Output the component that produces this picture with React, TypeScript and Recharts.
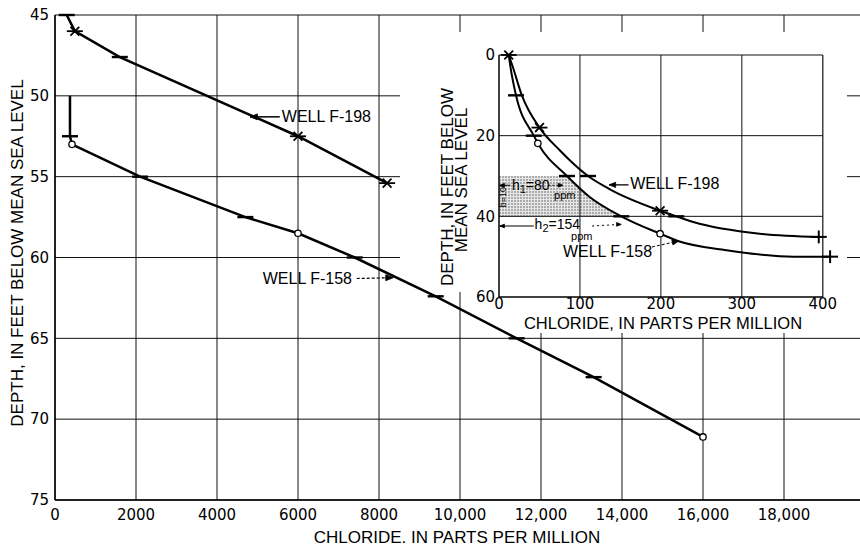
import React from 'react';
import {
  LineChart,
  ComposedChart,
  Line,
  Area,
  XAxis,
  YAxis,
  CartesianGrid,
  ReferenceLine,
  ReferenceDot,
  Label,
} from 'recharts';

const LABEL_FONT = '"Liberation Sans", Arial, sans-serif';
const TICK_FONT = '"DejaVu Sans", "Liberation Sans", sans-serif';

// ---------------- main chart ----------------
const mainChlorideTicks = [0, 2000, 4000, 6000, 8000, 10000, 12000, 14000, 16000, 18000];
const mainDepthTicks = [45, 50, 55, 60, 65, 70, 75];

const f198Chloride = [290, 490, 1600, 6000, 8200];
const f198Depth = [45.0, 46.0, 47.6, 52.5, 55.4];
const f198Marks = ['dash', 'star', 'dash', 'star', 'star'];

const f158Chloride = [370, 370, 420, 2100, 4700, 6000, 7400, 9400, 11400, 13300, 16000];
const f158Depth = [50.0, 52.5, 53.0, 55.0, 57.5, 58.5, 60.0, 62.4, 65.0, 67.4, 71.1];
const f158Marks = ['none', 'dash', 'circle', 'dash', 'dash', 'circle', 'dash', 'dash', 'dash', 'dash', 'circle'];

// ---------------- inset chart ----------------
const insetChlorideTicks = [0, 100, 200, 300, 400];
const insetDepthTicks = [0, 20, 40, 60];

const insetF198Chloride = [12, 17, 28, 50, 75, 110, 137, 199, 219, 240, 322, 395];
const insetF198Depth = [0, 2.9, 9.9, 18, 23.6, 30, 33.3, 38.6, 40, 41.4, 44.3, 45.1];
const insetF198Marks = ['star', 'none', 'none', 'star', 'none', 'dash', 'none', 'star', 'dash', 'none', 'none', 'plus'];

const insetF158Chloride = [12, 15, 21, 43, 48, 84, 112, 151, 199, 221, 281, 364, 409];
const insetF158Depth = [0, 4, 10, 20, 21.9, 30, 35.2, 40, 44.3, 46.1, 48.4, 50, 50];
const insetF158Marks = ['none', 'none', 'dash', 'dash', 'circle', 'dash', 'none', 'dash', 'circle', 'none', 'none', 'none', 'plus'];

// shaded zone (depth 30-40 ft) bounded on the right by the F-158 curve
const shadeChloride = [0, 84, 98, 112, 131, 151];
const shadeTop = [30, 30, 32.6, 35.2, 37.8, 40];
const shadeBottom = [40, 40, 40, 40, 40, 40];

const zip = (xs: number[], ys: number[], ms: string[]) =>
  xs.map((x, i) => ({ x, y: ys[i], m: ms[i] }));

const mainF198 = zip(f198Chloride, f198Depth, f198Marks);
const mainF158 = zip(f158Chloride, f158Depth, f158Marks);
const insetF198 = zip(insetF198Chloride, insetF198Depth, insetF198Marks);
const insetF158 = zip(insetF158Chloride, insetF158Depth, insetF158Marks);
const shadeData = shadeChloride.map((x, i) => ({ x, range: [shadeTop[i], shadeBottom[i]] }));

const fmtChloride = (v: number) =>
  v >= 10000 ? `${Math.floor(v / 1000)},${String(v % 1000).padStart(3, '0')}` : String(v);

const markDot = (half: number) => (props: any) => {
  const { cx, cy, payload, index } = props;
  const key = `m${index}`;
  if (cx == null || cy == null || !payload) return <g key={key} />;
  const s = { stroke: '#000', strokeWidth: 1.8, fill: 'none' };
  switch (payload.m) {
    case 'dash':
      return <line key={key} x1={cx - half} x2={cx + half} y1={cy} y2={cy} stroke="#000" strokeWidth={2.4} />;
    case 'star': {
      const d = half * 0.55;
      return (
        <g key={key} {...s}>
          <line x1={cx - half} x2={cx + half} y1={cy} y2={cy} />
          <line x1={cx - d} y1={cy - d} x2={cx + d} y2={cy + d} />
          <line x1={cx - d} y1={cy + d} x2={cx + d} y2={cy - d} />
        </g>
      );
    }
    case 'plus':
      return (
        <g key={key} {...s} strokeWidth={2}>
          <line x1={cx - half} x2={cx + half} y1={cy} y2={cy} />
          <line x1={cx} x2={cx} y1={cy - half * 0.8} y2={cy + half * 0.8} />
        </g>
      );
    case 'circle':
      return <circle key={key} cx={cx} cy={cy} r={3.2} fill="#fff" stroke="#000" strokeWidth={1.3} />;
    default:
      return <g key={key} />;
  }
};

const textAt = (str: string, size: number, anchor: string = 'start') => (p: any) => (
  <text
    x={p.cx}
    y={p.cy}
    textAnchor={anchor}
    dominantBaseline="central"
    fontFamily={LABEL_FONT}
    fontSize={size}
    fill="#000"
  >
    {str}
  </text>
);

const hText = (main: string, sub: string, rest: string, size: number) => (p: any) => (
  <text x={p.cx} y={p.cy} dominantBaseline="central" fontFamily={LABEL_FONT} fontSize={size} fill="#000">
    {main}
    <tspan dy={4} fontSize={size - 3}>{sub}</tspan>
    <tspan dy={-4}>{rest}</tspan>
  </text>
);

const arrowHead = (angle: number, len = 8) => (p: any) => {
  const a = (angle * Math.PI) / 180;
  const b1 = a + Math.PI - 0.38;
  const b2 = a + Math.PI + 0.38;
  const pts = `${p.cx + len * Math.cos(b1)},${p.cy + len * Math.sin(b1)} ${p.cx},${p.cy} ${p.cx + len * Math.cos(b2)},${p.cy + len * Math.sin(b2)}`;
  return <polygon points={pts} fill="#000" stroke="#000" strokeWidth={0.8} />;
};

const tickStyle = { fill: '#000', fontSize: 15, fontFamily: TICK_FONT };

export default function App() {
  return (
    <div style={{ position: 'absolute', left: 0, top: 0, width: 860, height: 546, overflow: 'hidden', background: '#fff' }}>
      {/* ---------------- main chart ---------------- */}
      <div style={{ position: 'absolute', left: 0, top: 0 }}>
        <LineChart width={900} height={546} margin={{ top: 15, right: 35, bottom: 0, left: 10 }}>
          <CartesianGrid stroke="#111" strokeWidth={1} />
          <XAxis
            dataKey="x"
            type="number"
            domain={[0, 20000]}
            ticks={mainChlorideTicks}
            interval={0}
            tickFormatter={fmtChloride}
            tick={tickStyle}
            tickLine={false}
            tickSize={0}
            tickMargin={9}
            height={46}
            axisLine={{ stroke: '#000', strokeWidth: 1.5 }}
          >
            <Label
              content={() => (
                <text x={457} y={537} textAnchor="middle" dominantBaseline="central" fontFamily={LABEL_FONT} fontSize={17} fill="#000">
                  CHLORIDE. IN PARTS PER MILLION
                </text>
              )}
            />
          </XAxis>
          <YAxis
            type="number"
            domain={[45, 75]}
            reversed
            ticks={mainDepthTicks}
            interval={0}
            tick={tickStyle}
            tickLine={false}
            tickSize={0}
            tickMargin={6}
            width={45}
            axisLine={{ stroke: '#000', strokeWidth: 1.5 }}
          >
            <Label
              content={() => (
                <text
                  transform="translate(17,253) rotate(-90)"
                  textAnchor="middle"
                  dominantBaseline="central"
                  fontFamily={LABEL_FONT}
                  fontSize={17}
                  fill="#000"
                >
                  DEPTH, IN FEET BELOW MEAN SEA LEVEL
                </text>
              )}
            />
          </YAxis>
          <Line
            data={mainF198}
            dataKey="y"
            type="linear"
            stroke="#000"
            strokeWidth={2.5}
            dot={markDot(8)}
            isAnimationActive={false}
          />
          <Line
            data={mainF158}
            dataKey="y"
            type="linear"
            stroke="#000"
            strokeWidth={2.5}
            dot={markDot(8)}
            isAnimationActive={false}
          />
          {/* WELL F-198 label and arrow */}
          <ReferenceLine segment={[{ x: 4815, y: 51.3 }, { x: 5550, y: 51.3 }]} stroke="#000" strokeWidth={1.5} />
          <ReferenceDot x={4815} y={51.3} shape={arrowHead(180)} />
          <ReferenceDot x={5600} y={51.3} shape={textAt('WELL F-198', 16)} />
          {/* WELL F-158 label and arrow */}
          <ReferenceDot x={5130} y={61.3} shape={textAt('WELL F-158', 16)} />
          <ReferenceLine
            segment={[{ x: 7450, y: 61.3 }, { x: 8330, y: 61.25 }]}
            stroke="#000"
            strokeWidth={1.2}
            strokeDasharray="3 2"
          />
          <ReferenceDot x={8350} y={61.25} shape={arrowHead(0)} />
        </LineChart>
      </div>

      {/* white background of the inset */}
      <div style={{ position: 'absolute', left: 400, top: 32, width: 447, height: 240, background: '#fff' }} />
      <div style={{ position: 'absolute', left: 440, top: 272, width: 407, height: 20, background: '#fff' }} />
      <div style={{ position: 'absolute', left: 515, top: 292, width: 332, height: 41, background: '#fff' }} />

      {/* ---------------- inset chart ---------------- */}
      <div style={{ position: 'absolute', left: 400, top: 32 }}>
        <ComposedChart width={442} height={300} margin={{ top: 23, right: 3, bottom: 0, left: 65 }}>
          <defs>
            <pattern id="stipple" width="3" height="3" patternUnits="userSpaceOnUse">
              <rect width="3" height="3" fill="#e6e6e6" />
              <circle cx="1" cy="1" r="0.75" fill="#555" />
            </pattern>
          </defs>
          <XAxis
            dataKey="x"
            type="number"
            domain={[0, 420]}
            ticks={insetChlorideTicks}
            interval={0}
            tick={tickStyle}
            tickLine={false}
            tickSize={0}
            tickMargin={1}
            height={35}
            axisLine={false}
          >
            <Label
              content={() => (
                <text x={263} y={291} textAnchor="middle" dominantBaseline="central" fontFamily={LABEL_FONT} fontSize={16.5} fill="#000">
                  CHLORIDE, IN PARTS PER MILLION
                </text>
              )}
            />
          </XAxis>
          <YAxis
            type="number"
            domain={[0, 60]}
            reversed
            ticks={insetDepthTicks}
            interval={0}
            tick={tickStyle}
            tickLine={false}
            tickSize={0}
            tickMargin={4}
            width={34}
            axisLine={false}
          >
            <Label
              content={() => (
                <g>
                  <text
                    transform="translate(47,155) rotate(-90)"
                    textAnchor="middle"
                    dominantBaseline="central"
                    fontFamily={LABEL_FONT}
                    fontSize={17}
                    fill="#000"
                  >
                    DEPTH, IN FEET BELOW
                  </text>
                  <text
                    transform="translate(61,148) rotate(-90)"
                    textAnchor="middle"
                    dominantBaseline="central"
                    fontFamily={LABEL_FONT}
                    fontSize={17}
                    fill="#000"
                  >
                    MEAN SEA LEVEL
                  </text>
                </g>
              )}
            />
          </YAxis>

          <Area
            data={shadeData}
            dataKey="range"
            type="linear"
            stroke="none"
            fill="url(#stipple) #cccccc"
            fillOpacity={1}
            isAnimationActive={false}
          />

          {/* inset grid and frame */}
          <ReferenceLine segment={[{ x: 100, y: 0 }, { x: 100, y: 60 }]} stroke="#111" strokeWidth={1} />
          <ReferenceLine segment={[{ x: 200, y: 0 }, { x: 200, y: 60 }]} stroke="#111" strokeWidth={1} />
          <ReferenceLine segment={[{ x: 300, y: 0 }, { x: 300, y: 60 }]} stroke="#111" strokeWidth={1} />
          <ReferenceLine segment={[{ x: 0, y: 20 }, { x: 400, y: 20 }]} stroke="#111" strokeWidth={1} />
          <ReferenceLine segment={[{ x: 0, y: 40 }, { x: 400, y: 40 }]} stroke="#111" strokeWidth={1} />
          <ReferenceLine segment={[{ x: 0, y: 0 }, { x: 400, y: 0 }]} stroke="#111" strokeWidth={1} />
          <ReferenceLine segment={[{ x: 400, y: 0 }, { x: 400, y: 60 }]} stroke="#111" strokeWidth={1.2} />
          <ReferenceLine segment={[{ x: 0, y: 0 }, { x: 0, y: 60 }]} stroke="#000" strokeWidth={1.5} />
          <ReferenceLine segment={[{ x: 0, y: 60 }, { x: 400, y: 60 }]} stroke="#000" strokeWidth={1.5} />

          <Line
            data={insetF198}
            dataKey="y"
            type="monotone"
            stroke="#000"
            strokeWidth={2}
            dot={markDot(8)}
            isAnimationActive={false}
          />
          <Line
            data={insetF158}
            dataKey="y"
            type="monotone"
            stroke="#000"
            strokeWidth={2}
            dot={markDot(8)}
            isAnimationActive={false}
          />

          {/* WELL F-198 (inset) */}
          <ReferenceLine segment={[{ x: 136, y: 32.2 }, { x: 160, y: 32.2 }]} stroke="#000" strokeWidth={1.3} />
          <ReferenceDot x={136} y={32.2} shape={arrowHead(180, 7)} />
          <ReferenceDot x={162} y={31.8} shape={textAt('WELL F-198', 16)} />
          {/* WELL F-158 (inset) */}
          <ReferenceDot x={79} y={48.6} shape={textAt('WELL F-158', 16)} />
          <ReferenceLine
            segment={[{ x: 189, y: 47.6 }, { x: 220, y: 46.2 }]}
            stroke="#000"
            strokeWidth={1}
            strokeDasharray="3 2"
          />
          <ReferenceDot x={222} y={46.1} shape={arrowHead(-13, 7)} />

          {/* h1 annotation */}
          <ReferenceLine segment={[{ x: 1, y: 32.3 }, { x: 14, y: 32.3 }]} stroke="#000" strokeWidth={1} />
          <ReferenceDot x={1} y={32.3} shape={arrowHead(180, 5)} />
          <ReferenceDot x={16} y={32.2} shape={hText('h', '1', '=80', 14)} />
          <ReferenceLine segment={[{ x: 61, y: 32.3 }, { x: 78, y: 32.3 }]} stroke="#000" strokeWidth={1} strokeDasharray="2 2" />
          <ReferenceDot x={79} y={32.3} shape={arrowHead(0, 5)} />
          <ReferenceDot x={68} y={34.6} shape={textAt('ppm', 11)} />

          {/* h2 annotation */}
          <ReferenceLine segment={[{ x: 1, y: 42.4 }, { x: 43, y: 42.4 }]} stroke="#000" strokeWidth={1} />
          <ReferenceDot x={1} y={42.4} shape={arrowHead(180, 5)} />
          <ReferenceDot x={44} y={42.0} shape={hText('h', '2', '=154', 14)} />
          <ReferenceDot x={89} y={44.9} shape={textAt('ppm', 11)} />
          <ReferenceLine segment={[{ x: 115, y: 42.4 }, { x: 150, y: 42.0 }]} stroke="#000" strokeWidth={1} strokeDasharray="2 3" />
          <ReferenceDot x={151} y={42.0} shape={arrowHead(0, 5)} />

          {/* thickness of the zone */}
          <ReferenceDot
            x={5}
            y={35}
            shape={(p: any) => (
              <text
                transform={`translate(${p.cx},${p.cy}) rotate(-90)`}
                textAnchor="middle"
                dominantBaseline="central"
                fontFamily={LABEL_FONT}
                fontSize={9}
                fill="#000"
              >
                b=10'
              </text>
            )}
          />
        </ComposedChart>
      </div>
    </div>
  );
}
